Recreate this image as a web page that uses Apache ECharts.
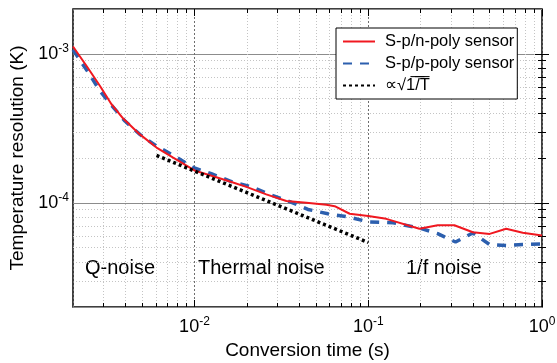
<!DOCTYPE html>
<html><head><meta charset="utf-8">
<script src="https://cdn.jsdelivr.net/npm/echarts@6/dist/echarts.min.js"></script>
<style>html,body{margin:0;padding:0;background:#fff}#c{width:557px;height:363px}</style>
</head><body><div id="c"></div>
<script>
const FONT = 'Arial, "Liberation Sans", Helvetica, sans-serif';

// Axis ranges and tick values
const xMin = 0.002, xMax = 1;
const yMin = 2e-5, yMax = 2e-3;
const xMajorTicks = [0.01, 0.1, 1];
const xMinorTicks = [0.003, 0.004, 0.005, 0.006, 0.007, 0.008, 0.009,
                     0.02, 0.03, 0.04, 0.05, 0.06, 0.07, 0.08, 0.09,
                     0.2, 0.3, 0.4, 0.5, 0.6, 0.7, 0.8, 0.9];
const yMajorTicks = [1e-4, 1e-3];
const yMinorTicks = [3e-5, 4e-5, 5e-5, 6e-5, 7e-5, 8e-5, 9e-5,
                     2e-4, 3e-4, 4e-4, 5e-4, 6e-4, 7e-4, 8e-4, 9e-4];

// Series data
const redX = [0.002, 0.0024, 0.00286, 0.00333, 0.00389, 0.00485, 0.00605, 0.00754, 0.01, 0.0128,
              0.016, 0.0199, 0.0259, 0.0338, 0.0441, 0.0574, 0.0641, 0.0782, 0.1, 0.127,
              0.197, 0.251, 0.313, 0.4, 0.5, 0.622, 0.775, 1.0];
const redY = [1.12e-3, 8.25e-4, 6.09e-4, 4.59e-4, 3.68e-4, 2.88e-4, 2.35e-4, 2.01e-4, 1.65e-4, 1.51e-4,
              1.39e-4, 1.28e-4, 1.14e-4, 1.03e-4, 1.00e-4, 9.7e-5, 9.5e-5, 8.45e-5, 8.16e-5, 7.81e-5,
              6.70e-5, 7.08e-5, 7.08e-5, 6.35e-5, 6.19e-5, 6.70e-5, 6.30e-5, 6.04e-5];
const blueX = [0.002, 0.00245, 0.00286, 0.00333, 0.00398, 0.00485, 0.00605, 0.00771, 0.0099, 0.0125,
               0.0163, 0.0213, 0.0271, 0.0353, 0.045, 0.0586, 0.0782, 0.1, 0.139, 0.197,
               0.251, 0.318, 0.4, 0.5, 0.622, 0.775, 1.0];
const blueY = [1.064e-3, 7.5e-4, 5.64e-4, 4.52e-4, 3.54e-4, 2.88e-4, 2.40e-4, 2.06e-4, 1.72e-4, 1.57e-4,
               1.39e-4, 1.28e-4, 1.14e-4, 1.02e-4, 9.03e-5, 8.45e-5, 8.01e-5, 7.46e-5, 7.35e-5, 6.78e-5,
               6.22e-5, 5.46e-5, 6.28e-5, 5.25e-5, 5.17e-5, 5.25e-5, 5.31e-5];
const dotX = [0.00605, 0.1];
const dotY = [2.08e-4, 5.42e-5];

const seriesNames = ['S-p/n-poly sensor', 'S-p/p-poly sensor', '\u221D\u221A1\u0305/\u0305T\u0305'];
const regionLabels = ['Q-noise', 'Thermal noise', '1/f noise'];

const L = Math.log10;
const pairs = (xs, ys) => xs.map((x, i) => [x, ys[i]]);

function supLabel(v) {
  const e = Math.round(L(v));
  if (Math.abs(L(v) - e) > 1e-6) return '';
  return '{b|10}{s|' + e + '}';
}
const richLab = {
  b: { fontSize: 18, fontFamily: FONT, color: '#000' },
  s: { fontSize: 12, fontFamily: FONT, color: '#000', padding: [0, 0, 10, 0] }
};

function helperAxis(pos, min, max, ticks, len, split) {
  return {
    type: 'value', min: min, max: max, position: pos,
    axisLine: { show: false },
    axisLabel: { show: false },
    axisTick: { show: true, inside: true, length: len, customValues: ticks, lineStyle: { color: '#000', width: 1 } },
    splitLine: split ? { show: true, lineStyle: { color: '#c4c4c4', type: [1, 2], width: 1 } } : { show: false }
  };
}

const chart = echarts.init(document.getElementById('c'), null, { renderer: 'canvas' });
chart.setOption({
  animation: false,
  backgroundColor: '#fff',
  textStyle: { fontFamily: FONT },
  grid: { left: 73, right: 15, top: 9, bottom: 56, show: true, borderColor: '#000', borderWidth: 1.5,
          backgroundColor: 'transparent', containLabel: false, outerBoundsMode: 'none' },
  xAxis: [
    { type: 'log', logBase: 10, min: xMin, max: xMax, position: 'bottom',
      name: 'Conversion time (s)', nameLocation: 'middle', nameGap: 31,
      nameTextStyle: { fontSize: 19, fontFamily: FONT, color: '#000' },
      axisLine: { show: false }, axisTick: { show: false },
      axisLabel: { formatter: supLabel, rich: richLab, margin: 9 },
      splitLine: { show: true, lineStyle: { color: '#6e6e6e', type: [2, 2], width: 1 } } },
    helperAxis('bottom', L(xMin), L(xMax), xMinorTicks.map(L), 4, true),
    helperAxis('bottom', L(xMin), L(xMax), xMajorTicks.map(L), 7, false),
    helperAxis('top', L(xMin), L(xMax), xMinorTicks.map(L), 4, false),
    helperAxis('top', L(xMin), L(xMax), xMajorTicks.map(L), 7, false)
  ],
  yAxis: [
    { type: 'log', logBase: 10, min: yMin, max: yMax, position: 'left',
      name: 'Temperature resolution (K)', nameLocation: 'middle', nameGap: 44,
      nameTextStyle: { fontSize: 19, fontFamily: FONT, color: '#000' },
      axisLine: { show: false }, axisTick: { show: false },
      axisLabel: { formatter: supLabel, rich: richLab, margin: 4 },
      splitLine: { show: true, lineStyle: { color: '#8c8c8c', type: 'solid', width: 1 } } },
    helperAxis('left', L(yMin), L(yMax), yMinorTicks.map(L), 4, true),
    helperAxis('left', L(yMin), L(yMax), yMajorTicks.map(L), 7, false),
    helperAxis('right', L(yMin), L(yMax), yMinorTicks.map(L), 4, false),
    helperAxis('right', L(yMin), L(yMax), yMajorTicks.map(L), 7, false)
  ],
  legend: {
    orient: 'vertical', left: 336, top: 28,
    data: seriesNames,
    padding: [5, 3, 5, 6], itemGap: 5, itemWidth: 32, itemHeight: 16,
    borderColor: '#000', borderWidth: 1, backgroundColor: '#fff', borderRadius: 0,
    itemStyle: { opacity: 0 },
    textStyle: { fontSize: 16.5, fontFamily: FONT, color: '#000', padding: [0, 0, 0, 5] }
  },
  graphic: [
    { type: 'text', left: 85, top: 258, style: { text: regionLabels[0], fontSize: 20, fontFamily: FONT, fill: '#000' } },
    { type: 'text', left: 198, top: 258, style: { text: regionLabels[1], fontSize: 20, fontFamily: FONT, fill: '#000' } },
    { type: 'text', left: 406, top: 258, style: { text: regionLabels[2], fontSize: 20, fontFamily: FONT, fill: '#000' } }
  ],
  series: [
    { type: 'line', name: seriesNames[1], xAxisIndex: 0, yAxisIndex: 0, data: pairs(blueX, blueY),
      symbol: 'none', showSymbol: false, z: 3,
      lineStyle: { color: '#2c5fae', width: 3.5, type: [9, 8], cap: 'butt' }, itemStyle: { color: '#2c5fae' } },
    { type: 'line', name: seriesNames[0], xAxisIndex: 0, yAxisIndex: 0, data: pairs(redX, redY),
      symbol: 'none', showSymbol: false, z: 4,
      lineStyle: { color: '#f01820', width: 2 }, itemStyle: { color: '#f01820' } },
    { type: 'line', name: seriesNames[2], xAxisIndex: 0, yAxisIndex: 0, data: pairs(dotX, dotY),
      symbol: 'none', showSymbol: false, z: 5,
      lineStyle: { color: '#000', width: 3.5, type: [3, 3], cap: 'butt' }, itemStyle: { color: '#000' } }
  ]
});
</script>
</body></html>
